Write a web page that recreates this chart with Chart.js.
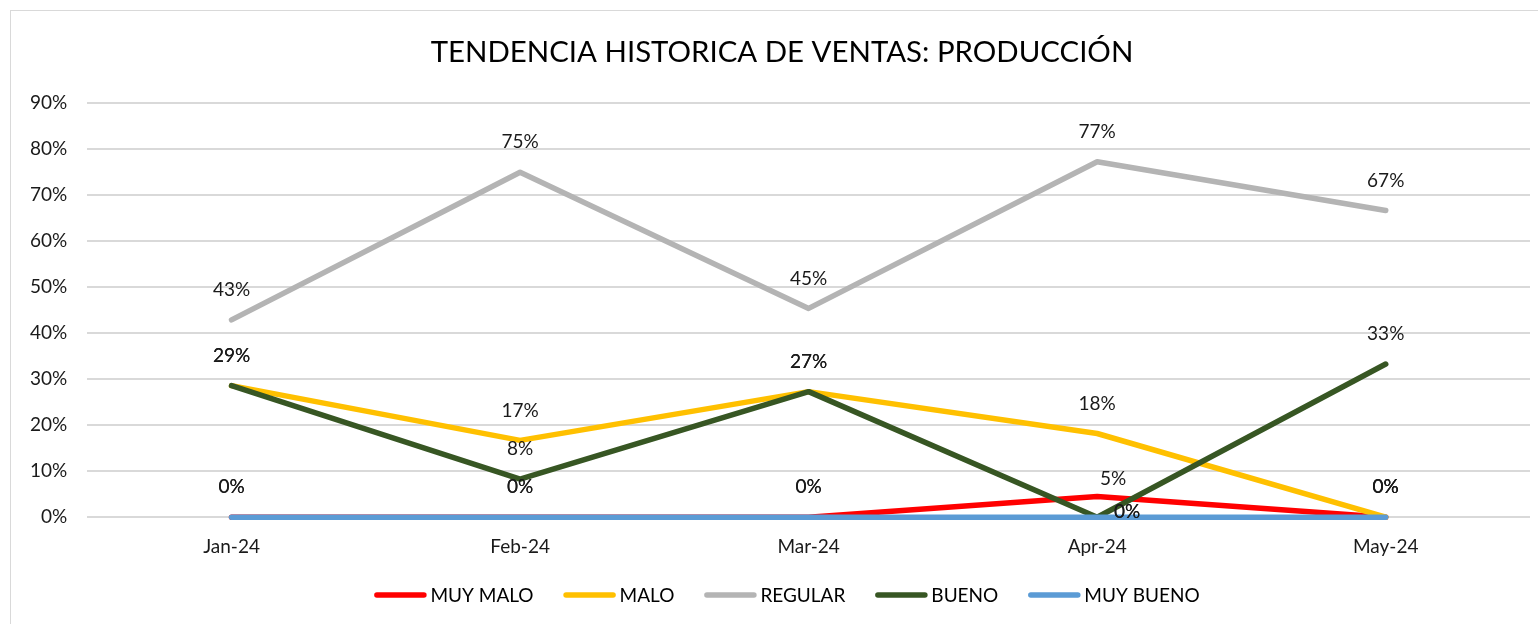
<!DOCTYPE html>
<html>
<head>
<meta charset="utf-8">
<script src="https://cdn.jsdelivr.net/npm/chart.js@4.4.1/dist/chart.umd.min.js"></script>
<style>
  html, body { margin: 0; padding: 0; background: #ffffff; }
  #wrap { position: relative; width: 1538px; height: 624px; }
</style>
</head>
<body>
<div id="wrap"><canvas id="c" width="1538" height="624"></canvas></div>
<script>
const chartTitle = 'TENDENCIA HISTORICA DE VENTAS: PRODUCCIÓN';
const categories = ['Jan-24', 'Feb-24', 'Mar-24', 'Apr-24', 'May-24'];
const seriesNames = ['MUY MALO', 'MALO', 'REGULAR', 'BUENO', 'MUY BUENO'];
const muyMalo  = [0, 0, 0, 4.5, 0];
const malo     = [28.6, 16.7, 27.3, 18.2, 0];
const regular  = [42.9, 75.0, 45.4, 77.3, 66.7];
const bueno    = [28.6, 8.3, 27.3, 0, 33.3];
const muyBueno = [0, 0, 0, 0, 0];
const yTicks = [0, 10, 20, 30, 40, 50, 60, 70, 80, 90];

const seriesValues = [muyMalo, malo, regular, bueno, muyBueno];
const seriesColors = ['#FF0000', '#FFC000', '#B4B4B4', '#375623', '#5B9BD5'];
const FONT = 'Lato, "Open Sans", "DejaVu Sans", sans-serif';

// label nudges (dx, dy from point) for special cases; default is centered 30px above
const labelNudge = { '0|3': [16, -18], '3|3': [30, -5], '4|3': [30, -5] };

const borderPlugin = {
  id: 'outerBorder',
  beforeDraw(chart) {
    const ctx = chart.ctx;
    ctx.save();
    ctx.fillStyle = '#ffffff';
    ctx.fillRect(0, 0, chart.width, chart.height);
    ctx.strokeStyle = '#D9D9D9';
    ctx.lineWidth = 1;
    ctx.strokeRect(10.5, 10.5, 1540, 630);
    ctx.restore();
  }
};

// draw the title centred on the (wider) Excel chart box
const titlePlugin = {
  id: 'excelTitle',
  afterDraw(chart) {
    const tb = chart.titleBlock;
    const ctx = chart.ctx;
    ctx.save();
    ctx.font = '29.4px ' + FONT;
    ctx.fillStyle = '#000000';
    ctx.textAlign = 'center';
    ctx.textBaseline = 'middle';
    const pad = tb.options.padding;
    const cy = tb.top + pad.top + (tb.height - pad.top - pad.bottom) / 2;
    ctx.fillText(chartTitle, 782, cy);
    ctx.restore();
  }
};

const labelPlugin = {
  id: 'pointLabels',
  afterDatasetsDraw(chart) {
    const ctx = chart.ctx;
    ctx.save();
    ctx.font = '19px ' + FONT;
    ctx.fillStyle = '#1a1a1a';
    ctx.textAlign = 'center';
    ctx.textBaseline = 'middle';
    chart.data.datasets.forEach((ds, i) => {
      const meta = chart.getDatasetMeta(i);
      meta.data.forEach((pt, j) => {
        const key = i + '|' + j;
        const n = labelNudge[key] || [0, -30];
        ctx.fillText(Math.round(ds.data[j]) + '%', pt.x + n[0], pt.y + n[1]);
      });
    });
    ctx.restore();
  }
};

// Excel-style legend: long line swatch, tight gap to text
const legendPlugin = {
  id: 'excelLegend',
  afterDraw(chart) {
    const ctx = chart.ctx;
    const sw = 52, gapText = 4, gapItem = 30, cy = 595, centerX = 787;
    ctx.save();
    ctx.font = '19px ' + FONT;
    ctx.textBaseline = 'middle';
    ctx.textAlign = 'left';
    const items = chart.data.datasets.map(ds => ({ label: ds.label, color: ds.borderColor, w: ctx.measureText(ds.label).width }));
    let total = 0;
    items.forEach((it, k) => { total += sw + gapText + it.w + (k < items.length - 1 ? gapItem : 0); });
    let x = centerX - total / 2;
    items.forEach(it => {
      ctx.strokeStyle = it.color;
      ctx.lineWidth = 5.5;
      ctx.lineCap = 'round';
      ctx.beginPath();
      ctx.moveTo(x + 2.5, cy);
      ctx.lineTo(x + sw - 2.5, cy);
      ctx.stroke();
      ctx.fillStyle = '#000000';
      ctx.fillText(it.label, x + sw + gapText, cy + 1);
      x += sw + gapText + it.w + gapItem;
    });
    ctx.restore();
  }
};

const datasets = seriesNames.map((name, i) => ({
  label: name,
  data: seriesValues[i],
  borderColor: seriesColors[i],
  backgroundColor: seriesColors[i],
  borderWidth: 5.5,
  pointRadius: 0,
  pointHoverRadius: 0,
  tension: 0,
  fill: false,
  clip: false,
  order: seriesNames.length - i,
  borderCapStyle: 'round',
  borderJoinStyle: 'round'
}));

new Chart(document.getElementById('c'), {
  type: 'line',
  data: { labels: categories, datasets },
  options: {
    responsive: false,
    animation: false,
    devicePixelRatio: 1,
    layout: { padding: { left: 10, right: 8, top: 10, bottom: 48 } },
    plugins: {
      title: {
        display: true,
        text: chartTitle,
        color: 'rgba(0,0,0,0)',
        font: { family: FONT, size: 29.4, weight: 'normal' },
        padding: { top: 25, bottom: 33 }
      },
      legend: { display: false },
      tooltip: { enabled: false }
    },
    scales: {
      x: {
        offset: true,
        grid: { display: false, drawTicks: false },
        border: { display: false },
        ticks: { color: '#1a1a1a', font: { family: FONT, size: 19 }, padding: 18 }
      },
      y: {
        min: 0,
        max: 90,
        afterBuildTicks(axis) { axis.ticks = yTicks.map(v => ({ value: v })); },
        grid: { color: '#D9D9D9', lineWidth: 2, drawTicks: false },
        border: { display: false },
        ticks: {
          color: '#1a1a1a',
          font: { family: FONT, size: 19 },
          padding: 20,
          callback: v => v + '%'
        }
      }
    }
  },
  plugins: [borderPlugin, labelPlugin, legendPlugin, titlePlugin]
});
</script>
</body>
</html>
